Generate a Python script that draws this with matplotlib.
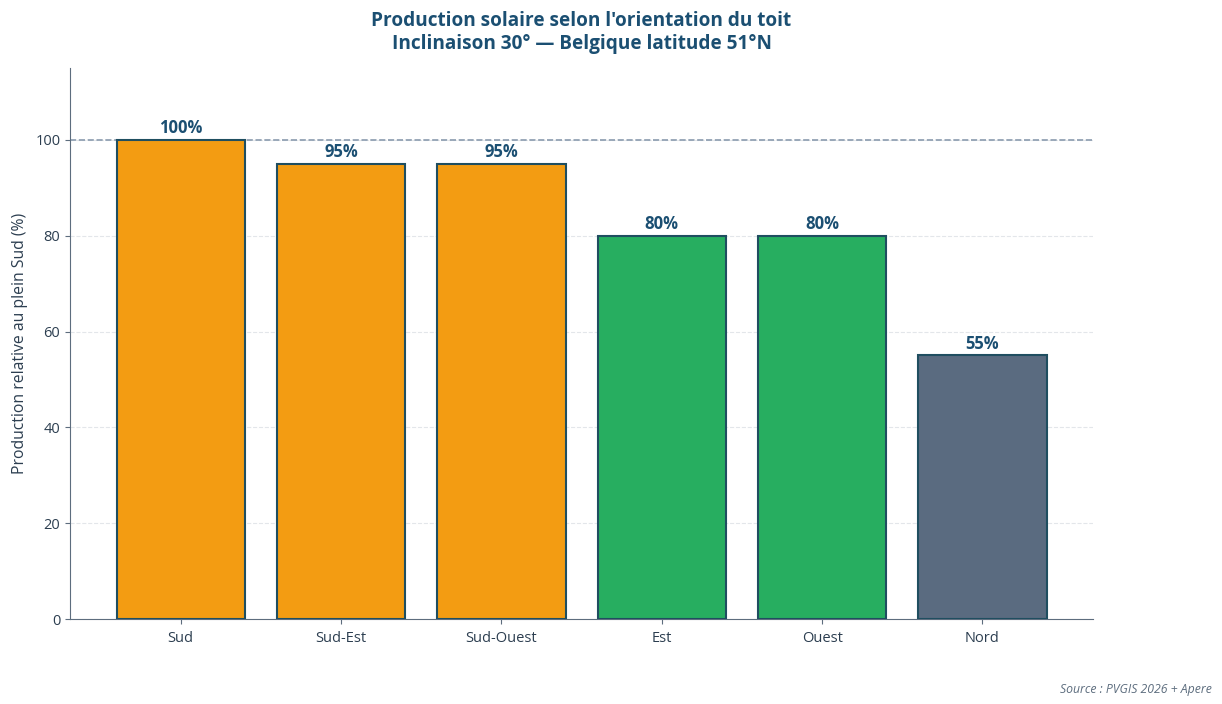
import matplotlib
matplotlib.use("Agg")
import matplotlib.pyplot as plt

plt.rcParams['font.family'] = ['Open Sans', 'DejaVu Sans']

categories = ["Sud", "Sud-Est", "Sud-Ouest", "Est", "Ouest", "Nord"]
values = [100, 95, 95, 80, 80, 55]
colors = ["#F39C12", "#F39C12", "#F39C12", "#27AE60", "#27AE60", "#5A6B80"]
labels = ["100%", "95%", "95%", "80%", "80%", "55%"]

fig, ax = plt.subplots(figsize=(12.22, 7.04), dpi=100)
fig.subplots_adjust(left=0.0573, right=0.8945, top=0.9034, bottom=0.1207)

bars = ax.bar(categories, values, width=0.8, color=colors, edgecolor="#1F4E60", linewidth=1.5, zorder=3)
for b, lab in zip(bars, labels):
    ax.text(b.get_x() + b.get_width() / 2, b.get_height() + 0.6, lab, ha="center", va="bottom",
            fontsize=12, fontweight="bold", color="#1B4F72", zorder=4)

ax.axhline(100, color="#8A9BAE", linestyle="--", linewidth=1.2, zorder=2)
ax.set_ylim(0, 115)
ax.set_yticks([0, 20, 40, 60, 80, 100])
ax.yaxis.grid(True, linestyle="--", color="#E3E6EA", linewidth=0.8, zorder=0)
ax.set_axisbelow(True)

for s in ["top", "right"]:
    ax.spines[s].set_visible(False)
for s in ["left", "bottom"]:
    ax.spines[s].set_color("#5D6D7E")
ax.tick_params(axis="both", colors="#5D6D7E", labelcolor="#2C3E50", labelsize=10.5)
ax.tick_params(axis="x", pad=5)
ax.set_ylabel("Production relative au plein Sud (%)", fontsize=11.3, color="#2C3E50", labelpad=5)

ax.set_title("Production solaire selon l'orientation du toit\nInclinaison 30° — Belgique latitude 51°N",
             fontsize=13.7, fontweight="bold", color="#1B4F72", pad=14, linespacing=1.15)

fig.text(0.992, 0.012, "Source : PVGIS 2026 + Apere", ha="right", va="bottom",
         fontsize=8.8, style="italic", color="#5D6D7E")

fig.savefig("out.png", dpi=100)
